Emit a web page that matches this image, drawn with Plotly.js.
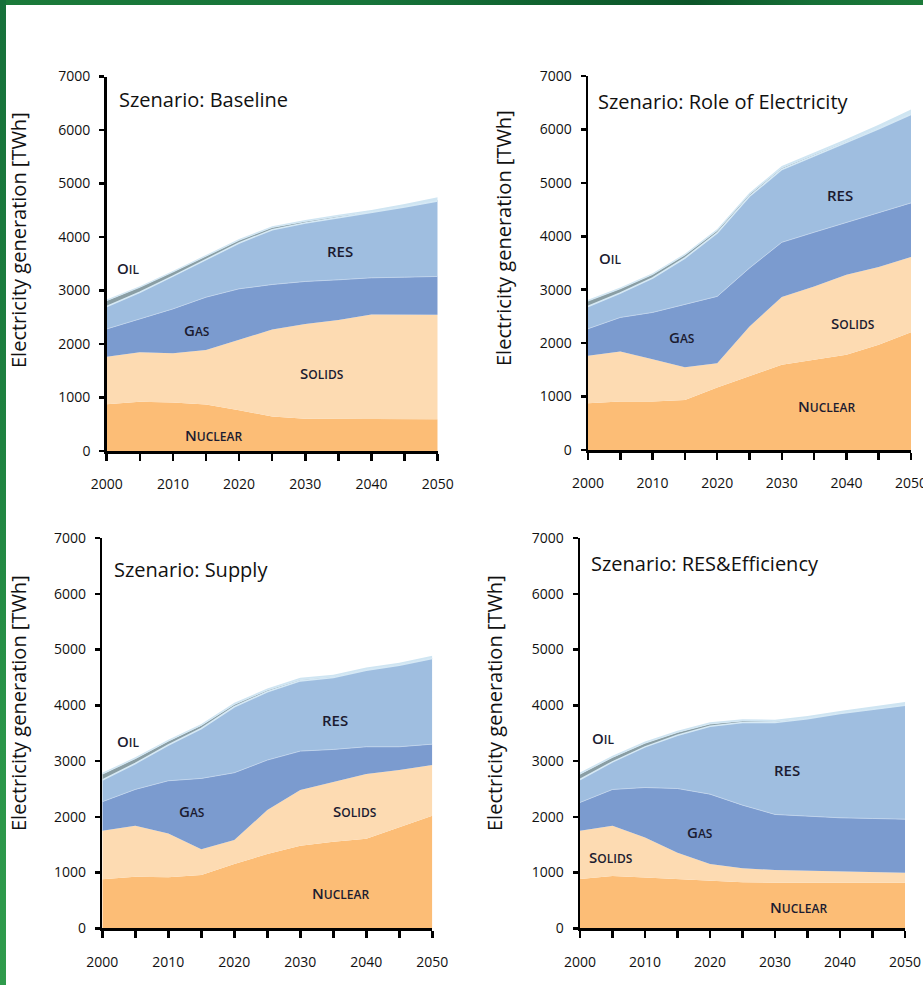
<!DOCTYPE html>
<html>
<head>
<meta charset="utf-8">
<script src="https://cdn.plot.ly/plotly-3.0.1.min.js"></script>
<style>
  html, body { margin: 0; padding: 0; background: #ffffff; }
  #wrap { position: relative; width: 923px; height: 985px; overflow: hidden; }
  #chart { position: absolute; left: 0; top: 0; width: 923px; height: 985px; }
  #topbar { position: absolute; left: 0; top: 0; width: 923px; height: 5px; z-index: 5;
    background: linear-gradient(90deg, #1b7a3a 0%, #17743a 40%, #0f5f2e 62%, #0c5529 75%, #167037 88%, #1c7a39 100%); }
  #leftbar { position: absolute; left: 0; top: 0; width: 6px; height: 985px; z-index: 5;
    background: linear-gradient(180deg, #16703a 0%, #1e8240 45%, #2a9549 75%, #2f9b4c 100%); }
</style>
</head>
<body>
<div id="wrap">
  <div id="chart"></div>
  <div id="topbar"></div>
  <div id="leftbar"></div>
</div>
<script>
// ---------------- DATA (TWh, per layer, stacked) ----------------
const years = [2000, 2005, 2010, 2015, 2020, 2025, 2030, 2035, 2040, 2045, 2050];
const xTickVals = [2000, 2005, 2010, 2015, 2020, 2025, 2030, 2035, 2040, 2045, 2050];
const xTickLabels = ['2000', '', '2010', '', '2020', '', '2030', '', '2040', '', '2050'];
const yTickVals = [0, 1000, 2000, 3000, 4000, 5000, 6000, 7000];

const scenarioTitles = ['Szenario: Baseline', 'Szenario: Role of Electricity', 'Szenario: Supply', 'Szenario: RES&Efficiency'];
const layerNames = ['Nuclear', 'Solids', 'Gas', 'RES', 'Oil', 'Other'];

// Baseline
const baselineNuclear = [875, 920, 905, 870, 760, 645, 605, 600, 600, 598, 595];
const baselineSolids  = [887, 924, 920, 1018, 1320, 1625, 1770, 1850, 1950, 1952, 1950];
const baselineGas     = [519, 626, 831, 987, 951, 842, 794, 750, 687, 700, 717];
const baselineRES     = [419, 499, 613, 706, 857, 1025, 1093, 1162, 1219, 1312, 1413];
const baselineOil     = [110, 90, 75, 60, 50, 40, 30, 25, 15, 10, 5];
const baselineOther   = [20, 20, 20, 20, 25, 25, 25, 30, 35, 45, 65];

// Role of Electricity
const roleNuclear = [875, 906, 906, 938, 1169, 1375, 1594, 1688, 1781, 1969, 2206];
const roleSolids  = [888, 938, 794, 612, 456, 937, 1268, 1374, 1500, 1456, 1406];
const roleGas     = [506, 637, 875, 1169, 1250, 1094, 1025, 1013, 981, 1012, 1013];
const roleRES     = [418, 456, 644, 875, 1187, 1344, 1363, 1425, 1488, 1575, 1656];
const roleOil     = [100, 80, 65, 55, 45, 35, 30, 25, 20, 15, 10];
const roleOther   = [25, 25, 25, 25, 30, 30, 35, 40, 50, 60, 80];

// Supply
const supplyNuclear = [878, 926, 914, 956, 1153, 1332, 1481, 1553, 1607, 1810, 2019];
const supplySolids  = [872, 914, 788, 460, 430, 789, 998, 1075, 1159, 1028, 908];
const supplyGas     = [520, 651, 944, 1272, 1207, 896, 699, 580, 490, 418, 376];
const supplyRES     = [388, 466, 640, 896, 1183, 1224, 1260, 1290, 1374, 1463, 1536];
const supplyOil     = [105, 85, 70, 55, 40, 30, 20, 15, 12, 10, 8];
const supplyOther   = [25, 25, 25, 25, 30, 30, 35, 35, 35, 35, 40];

// RES & Efficiency
const resNuclear = [884, 937, 913, 884, 854, 824, 818, 818, 818, 818, 818];
const resSolids  = [865, 902, 717, 471, 298, 251, 227, 215, 209, 191, 179];
const resGas     = [508, 651, 895, 1152, 1254, 1134, 997, 979, 955, 961, 961];
const resRES     = [412, 495, 729, 956, 1218, 1481, 1648, 1749, 1869, 1952, 2042];
const resOil     = [95, 80, 65, 50, 40, 30, 20, 10, 8, 6, 5];
const resOther   = [30, 30, 30, 30, 30, 30, 30, 35, 40, 45, 55];

const scenarios = [
  [baselineNuclear, baselineSolids, baselineGas, baselineRES, baselineOil, baselineOther],
  [roleNuclear, roleSolids, roleGas, roleRES, roleOil, roleOther],
  [supplyNuclear, supplySolids, supplyGas, supplyRES, supplyOil, supplyOther],
  [resNuclear, resSolids, resGas, resRES, resOil, resOther]
];

// ---------------- STYLE ----------------
const fillColors = ['#fcbd76', '#fddbb2', '#7b9bcf', '#9fbee0', '#8a9ea4', '#cfe5f2'];
const lineStyles = [
  {width: 0, color: 'rgba(0,0,0,0)'},
  {width: 0, color: 'rgba(0,0,0,0)'},
  {width: 0.8, color: '#c3d6ec'},
  {width: 1.6, color: '#d6e9f5'},
  {width: 0.8, color: '#d6e9f5'},
  {width: 0, color: 'rgba(0,0,0,0)'}
];

// plot areas in pixels: [x2000, x2050, y0, y7000]
const boxes = [
  [106.7, 437.7, 451, 76.5],
  [588, 911, 450, 76],
  [102.3, 432.3, 928.3, 538],
  [580, 905, 928.3, 538]
];
const W = 923, H = 985;
const FONT = '"Open Sans", "DejaVu Sans", sans-serif';

const traces = [];
scenarios.forEach((layers, s) => {
  const suf = s === 0 ? '' : String(s + 1);
  layers.forEach((vals, i) => {
    traces.push({
      type: 'scatter', mode: 'lines',
      x: years, y: vals,
      xaxis: 'x' + suf, yaxis: 'y' + suf,
      stackgroup: 'g' + s,
      name: layerNames[i],
      fillcolor: fillColors[i],
      line: Object.assign({shape: 'linear'}, lineStyles[i]),
      hoverinfo: 'skip'
    });
  });
});

const layout = {
  width: W, height: H,
  margin: {l: 0, r: 0, t: 0, b: 0},
  paper_bgcolor: '#ffffff', plot_bgcolor: 'rgba(0,0,0,0)',
  showlegend: false,
  font: {family: FONT, color: '#111111'},
  annotations: []
};

boxes.forEach((b, s) => {
  const suf = s === 0 ? '' : String(s + 1);
  layout['xaxis' + suf] = {
    domain: [b[0] / W, b[1] / W],
    range: [2000, 2050],
    anchor: 'y' + suf,
    showgrid: false, zeroline: false,
    showline: true, linecolor: '#000', linewidth: 2.5,
    ticks: 'outside', ticklen: 7, tickwidth: 2.5, tickcolor: '#000',
    tickmode: 'array', tickvals: xTickVals, ticktext: xTickLabels,
    tickfont: {size: 14, family: FONT, color: '#111'},
    ticklabelstandoff: 12,
    ticklabeloverflow: 'allow',
    fixedrange: true
  };
  layout['yaxis' + suf] = {
    domain: [1 - b[2] / H, 1 - b[3] / H],
    range: [0, 7000],
    anchor: 'x' + suf,
    showgrid: false, zeroline: false,
    showline: true, linecolor: '#000', linewidth: 2.5,
    ticks: 'outside', ticklen: 5, tickwidth: 2.5, tickcolor: '#000',
    tickmode: 'array', tickvals: yTickVals,
    tickfont: {size: 14, family: FONT, color: '#111'},
    ticklabelstandoff: 6,
    ticklabeloverflow: 'allow',
    fixedrange: true
  };
});

function ann(text, px, py, opts) {
  return Object.assign({
    text: text, xref: 'paper', yref: 'paper',
    x: px / W, y: 1 - py / H, showarrow: false,
    xanchor: 'center', yanchor: 'middle',
    font: {family: FONT, size: 14, color: '#1b1b30'}
  }, opts || {});
}

// axis titles
const yTitle = 'Electricity generation [TWh]';
[[18, 240], [503, 238], [18, 703], [494, 703]].forEach(p => {
  layout.annotations.push(ann(yTitle, p[0], p[1], {textangle: -90, font: {family: FONT, size: 20, color: '#111'}}));
});
// scenario titles
[[117, 100], [596, 101], [112, 569], [589, 563]].forEach((p, i) => {
  layout.annotations.push(ann(scenarioTitles[i], p[0], p[1], {xanchor: 'left', font: {family: FONT, size: 20, color: '#111'}}));
});

// layer labels (small caps)
function sc(word) {
  return word[0] + '<span style="font-size:12px">' + word.slice(1).toUpperCase() + '</span>';
}
const labelFont = {family: FONT, size: 15, color: '#1b1b30', weight: 600};
const labelPos = [
  {Oil: [128, 268], RES: [340, 251], Gas: [197, 330], Solids: [322, 373], Nuclear: [213, 435]},
  {Oil: [610, 258], RES: [840, 195], Gas: [682, 337], Solids: [853, 323], Nuclear: [826, 406]},
  {Oil: [128, 741], RES: [335, 720], Gas: [192, 811], Solids: [355, 811], Nuclear: [340, 893]},
  {Oil: [603, 738], RES: [787, 770], Gas: [700, 832], Solids: [611, 857], Nuclear: [798, 907]}
];
labelPos.forEach(lp => {
  Object.keys(lp).forEach(k => {
    const t = k === 'RES' ? 'RES' : sc(k);
    layout.annotations.push(ann(t, lp[k][0], lp[k][1], {font: labelFont}));
  });
});

Plotly.newPlot('chart', traces, layout, {staticPlot: true, displayModeBar: false});
</script>
</body>
</html>
